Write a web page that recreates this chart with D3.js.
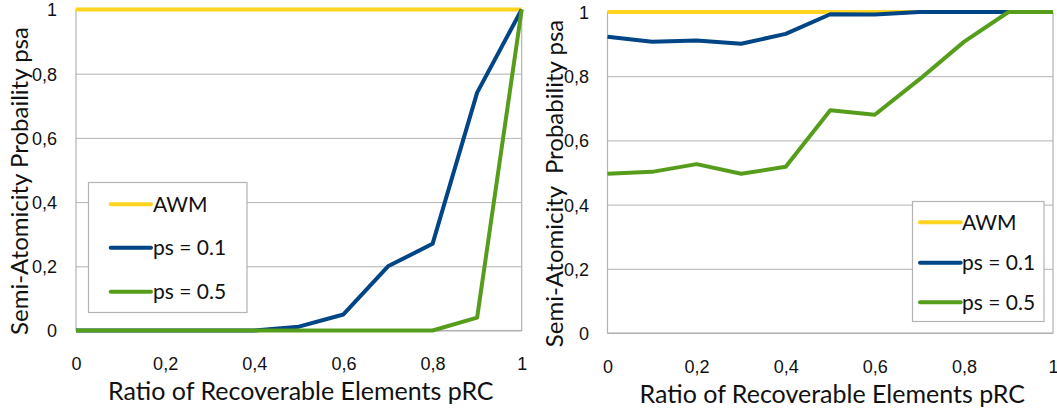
<!DOCTYPE html>
<html>
<head>
<meta charset="utf-8">
<script src="https://cdn.jsdelivr.net/npm/d3@7"></script>
<style>
  html, body { margin: 0; padding: 0; background: #ffffff; }
  svg { display: block; font-family: Lato, "Open Sans", sans-serif; }
</style>
</head>
<body>
<svg id="chart" width="1057" height="412"></svg>
<script>
// ---- data ----
const ratios = [0, 0.1, 0.2, 0.3, 0.4, 0.5, 0.6, 0.7, 0.8, 0.9, 1];
const seriesNames = ["AWM", "ps = 0.1", "ps = 0.5"];
const tickValues = [0, 0.2, 0.4, 0.6, 0.8, 1];
const tickLabels = ["0", "0,2", "0,4", "0,6", "0,8", "1"];
const xTitle = "Ratio of Recoverable Elements pRC";
const leftYTitle = "Semi-Atomicity Probaility psa";
const rightYTitle = "Semi-Atomicity  Probability psa";

const leftAWM  = [1, 1, 1, 1, 1, 1, 1, 1, 1, 1, 1];
const leftPs01 = [0, 0, 0, 0, 0, 0.012, 0.05, 0.2, 0.27, 0.741, 1];
const leftPs05 = [0, 0, 0, 0, 0, 0, 0, 0, 0, 0.04, 1];

const rightAWM  = [1, 1, 1, 1, 1, 1, 1, 1, 1, 1, 1];
const rightPs01 = [0.923, 0.907, 0.911, 0.901, 0.932, 0.993, 0.992, 1, 1, 1, 1];
const rightPs05 = [0.496, 0.502, 0.526, 0.496, 0.518, 0.694, 0.68, 0.79, 0.907, 1, 1];

// ---- styling ----
const seriesColors = ["#ffd320", "#004586", "#579d1c"];
const gridColor = "#b3b3b3";
const textColor = "#111111";

const svg = d3.select("#chart");

function drawPanel(cfg) {
  const x = d3.scaleLinear().domain([0, 1]).range([cfg.left, cfg.right]);
  const y = d3.scaleLinear().domain([0, 1]).range([cfg.bottom, cfg.top]);
  const g = svg.append("g");

  // horizontal gridlines
  g.append("g")
    .attr("transform", `translate(${cfg.left},0)`)
    .call(d3.axisLeft(y).tickValues(tickValues).tickSize(-(cfg.right - cfg.left)).tickFormat(""))
    .call(s => s.select(".domain").remove())
    .call(s => s.selectAll("line").attr("stroke", gridColor).attr("stroke-width", 1));

  // plot frame
  g.append("rect")
    .attr("x", cfg.left).attr("y", cfg.top)
    .attr("width", cfg.right - cfg.left).attr("height", cfg.bottom - cfg.top)
    .attr("fill", "none").attr("stroke", gridColor).attr("stroke-width", 1.2);

  // y tick labels
  g.append("g")
    .attr("transform", `translate(${cfg.left - cfg.yLabelGap},0)`)
    .call(d3.axisLeft(y).tickValues(tickValues).tickSize(0).tickPadding(0)
      .tickFormat((d, i) => tickLabels[i]))
    .call(s => s.select(".domain").remove())
    .call(s => s.selectAll("text")
      .attr("fill", textColor).attr("font-size", 18).attr("font-family", null)
      .attr("x", 0).attr("dy", "0.36em"));

  // x tick labels
  g.append("g")
    .attr("transform", `translate(0,${cfg.bottom + cfg.xLabelOffset})`)
    .call(d3.axisBottom(x).tickValues(tickValues).tickSize(0).tickPadding(0)
      .tickFormat((d, i) => tickLabels[i]))
    .call(s => s.select(".domain").remove())
    .call(s => s.selectAll("text")
      .attr("fill", textColor).attr("font-size", 18).attr("font-family", null)
      .attr("y", 0).attr("dy", 0));

  // axis titles
  g.append("text")
    .attr("x", (cfg.left + cfg.right) / 2 + 2)
    .attr("y", cfg.bottom + cfg.xTitleOffset)
    .attr("text-anchor", "middle")
    .attr("font-size", 25).attr("fill", textColor)
    .text(xTitle);

  g.append("text")
    .attr("transform", `translate(${cfg.yTitleX},${cfg.yTitleY}) rotate(-90)`)
    .attr("text-anchor", "middle")
    .attr("font-size", 24).attr("fill", textColor)
    .style("white-space", "pre")
    .text(cfg.yTitle);

  // series lines
  const line = d3.line()
    .x((d, i) => x(ratios[i]))
    .y(d => y(d));

  cfg.series.forEach((vals, k) => {
    g.append("path")
      .datum(vals)
      .attr("d", line)
      .attr("fill", "none")
      .attr("stroke", seriesColors[k])
      .attr("stroke-width", 4)
      .attr("stroke-linejoin", "round")
      .attr("stroke-linecap", "butt");
  });

  // legend
  const lg = cfg.legend;
  g.append("rect")
    .attr("x", lg.x).attr("y", lg.y).attr("width", lg.w).attr("height", lg.h)
    .attr("fill", "#ffffff").attr("stroke", gridColor).attr("stroke-width", 1.2);

  seriesNames.forEach((name, k) => {
    const ry = lg.rows[k];
    g.append("line")
      .attr("x1", lg.lineX1).attr("x2", lg.lineX2)
      .attr("y1", ry).attr("y2", ry)
      .attr("stroke", seriesColors[k]).attr("stroke-width", 4)
      .attr("stroke-linecap", "round");
    g.append("text")
      .attr("x", lg.textX).attr("y", ry).attr("dy", "0.36em")
      .attr("font-size", 21).attr("fill", textColor)
      .text(name);
  });
}

drawPanel({
  left: 76, right: 521.7, top: 9.5, bottom: 330.5,
  yLabelGap: 19, xLabelOffset: 39, xTitleOffset: 69.5,
  yTitle: leftYTitle, yTitleX: 28, yTitleY: 181,
  series: [leftAWM, leftPs01, leftPs05],
  legend: { x: 88.5, y: 182.5, w: 158.5, h: 130,
            rows: [204.3, 247.7, 291.7], lineX1: 110.7, lineX2: 151, textX: 153 }
});

drawPanel({
  left: 607.5, right: 1053, top: 12, bottom: 333,
  yLabelGap: 18.5, xLabelOffset: 39.5, xTitleOffset: 70,
  yTitle: rightYTitle, yTitleX: 563, yTitleY: 183.5,
  series: [rightAWM, rightPs01, rightPs05],
  legend: { x: 912.5, y: 201.5, w: 131.5, h: 120,
            rows: [222.3, 262.7, 302.3], lineX1: 920, lineX2: 960.7, textX: 962 }
});
</script>
</body>
</html>
